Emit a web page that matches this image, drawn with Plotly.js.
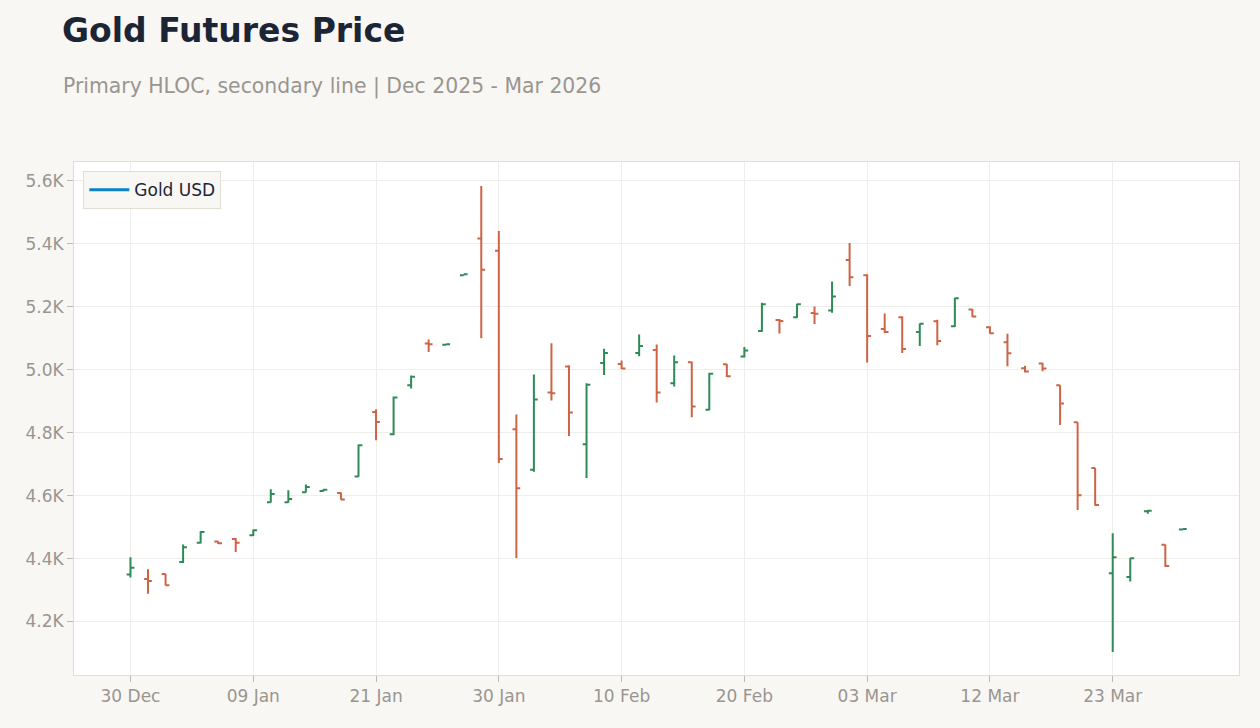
<!DOCTYPE html>
<html>
<head>
<meta charset="utf-8">
<script src="https://cdn.plot.ly/plotly-3.0.1.min.js"></script>
<style>
html,body{margin:0;padding:0;background:#f8f7f4;}
#chart{width:1260px;height:728px;}
</style>
</head>
<body>
<div id="chart"></div>
<script>
const dates = [
  "2025-12-30","2025-12-31","2026-01-02","2026-01-05","2026-01-06","2026-01-07","2026-01-08","2026-01-09",
  "2026-01-12","2026-01-13","2026-01-14","2026-01-15","2026-01-16","2026-01-20","2026-01-21",
  "2026-01-22","2026-01-23","2026-01-26","2026-01-27","2026-01-28","2026-01-29","2026-01-30",
  "2026-02-02","2026-02-03","2026-02-04","2026-02-05","2026-02-06","2026-02-09","2026-02-10",
  "2026-02-11","2026-02-12","2026-02-13","2026-02-17","2026-02-18","2026-02-19","2026-02-20",
  "2026-02-23","2026-02-24","2026-02-25","2026-02-26","2026-02-27","2026-03-02","2026-03-03",
  "2026-03-04","2026-03-05","2026-03-06","2026-03-09","2026-03-10","2026-03-11","2026-03-12",
  "2026-03-13","2026-03-16","2026-03-17","2026-03-18","2026-03-19","2026-03-20","2026-03-23",
  "2026-03-24","2026-03-25","2026-03-26","2026-03-27"
];
const openP = [
  4349,4335,4351,4389,4450,4454,4462,4474,4579,4579,4611,4615,4608,4661,4866,
  4795,4951,5083,5079,5300,5417,5378,4811,4682,4928,5010,4763,5021,5018,
  5053,5063,4957,5024,4873,5017,5042,5123,5158,5167,5180,5188,5349,5300,
  5129,5167,5120,5154,5138,5191,5135,5087,5005,5020,4951,4833,4688,4353,
  4341,4550,4444,4492
];
const highP = [
  4404,4366,4352,4445,4487,4455,4465,4492,4620,4617,4635,4620,4610,4762,4874,
  4915,4982,5096,5082,5303,5584,5441,4858,4985,5084,5014,4957,5067,5029,
  5112,5080,5045,5026,4990,5018,5072,5213,5161,5210,5201,5280,5403,5303,
  5179,5170,5147,5159,5229,5193,5138,5114,5013,5022,4951,4833,4688,4480,
  4402,4554,4445,4495
];
const lowP = [
  4340,4288,4314,4386,4448,4446,4421,4472,4578,4577,4610,4613,4587,4660,4776,
  4792,4940,5056,5078,5299,5100,4704,4402,4676,4902,4789,4656,4983,5002,
  5043,4896,4947,4849,4871,4977,5039,5121,5115,5164,5145,5181,5266,5023,
  5117,5053,5075,5078,5136,5167,5114,5011,4991,4995,4824,4554,4568,4103,
  4327,4542,4373,4491
];
const closeP = [
  4371,4329,4315,4436,4484,4449,4450,4490,4605,4589,4627,4619,4588,4760,4834,
  4912,4978,5081,5081,5303,5318,4716,4623,4905,4925,4864,4952,5053,5004,
  5075,4928,5024,4883,4987,4979,5061,5208,5155,5208,5178,5233,5294,5107,
  5120,5066,5146,5091,5227,5169,5116,5052,4994,5004,4893,4601,4570,4404,
  4401,4552,4376,4494
];
const tickDates = ["2025-12-30","2026-01-09","2026-01-21","2026-01-30","2026-02-10","2026-02-20","2026-03-03","2026-03-12","2026-03-23"];
const tickLabels = ["30 Dec","09 Jan","21 Jan","30 Jan","10 Feb","20 Feb","03 Mar","12 Mar","23 Mar"];
const yTickVals = [4200,4400,4600,4800,5000,5200,5400,5600];
const yTickLabels = ["4.2K","4.4K","4.6K","4.8K","5.0K","5.2K","5.4K","5.6K"];

const upColor = "#2e8b57";
const downColor = "#cd6446";

const traces = [
  {
    type: "ohlc",
    x: dates, open: openP, high: highP, low: lowP, close: closeP,
    increasing: {line: {color: upColor, width: 2}},
    decreasing: {line: {color: downColor, width: 2}},
    tickwidth: 0.22,
    showlegend: false,
    name: "Gold"
  },
  {
    type: "scatter", mode: "lines",
    x: [null], y: [null],
    name: "Gold USD",
    line: {color: "#0a84c6", width: 3},
    showlegend: true,
    hoverinfo: "skip"
  }
];

const axisFont = {family: "DejaVu Sans, sans-serif", size: 17, color: "#9a958f"};

const layout = {
  width: 1260, height: 728,
  paper_bgcolor: "#f8f7f4",
  plot_bgcolor: "#ffffff",
  margin: {l: 74, r: 21, t: 162, b: 53},
  font: {family: "DejaVu Sans, sans-serif"},
  title: {
    text: "<b>Gold Futures Price</b>",
    font: {family: "DejaVu Sans, sans-serif", size: 33, color: "#1c2536"},
    x: 62/1260, xanchor: "left", xref: "container",
    y: 1 - 30/728, yanchor: "middle", yref: "container"
  },
  annotations: [{
    text: "Primary HLOC, secondary line | Dec 2025 - Mar 2026",
    xref: "paper", yref: "paper",
    x: (61-74)/1165, xanchor: "left",
    y: (675-86)/513, yanchor: "middle",
    showarrow: false,
    font: {family: "DejaVu Sans, sans-serif", size: 20.4, color: "#9a958f"}
  }],
  xaxis: {
    type: "category",
    range: [-3.22, 63.2],
    tickmode: "array",
    tickvals: tickDates,
    ticktext: tickLabels,
    tickfont: axisFont,
    showgrid: true, gridcolor: "#f0eeeb", gridwidth: 1,
    showline: true, linecolor: "#e2ddd5", linewidth: 1, mirror: true,
    ticks: "outside", ticklen: 6, tickcolor: "#bdb8b1",
    rangeslider: {visible: false},
    zeroline: false
  },
  yaxis: {
    range: [4030, 5660],
    tickmode: "array",
    tickvals: yTickVals,
    ticktext: yTickLabels,
    tickfont: axisFont,
    showgrid: true, gridcolor: "#f0eeeb", gridwidth: 1,
    showline: true, linecolor: "#e2ddd5", linewidth: 1, mirror: true,
    ticks: "outside", ticklen: 6, tickcolor: "#bdb8b1",
    zeroline: false
  },
  showlegend: true,
  legend: {
    x: 0.008, y: 0.982, xanchor: "left", yanchor: "top",
    itemwidth: 40,
    bgcolor: "#f8f7f4", bordercolor: "#e2ddd5", borderwidth: 1,
    font: {family: "DejaVu Sans, sans-serif", size: 17, color: "#1c2536"}
  }
};

Plotly.newPlot("chart", traces, layout, {displayModeBar: false});
</script>
</body>
</html>
